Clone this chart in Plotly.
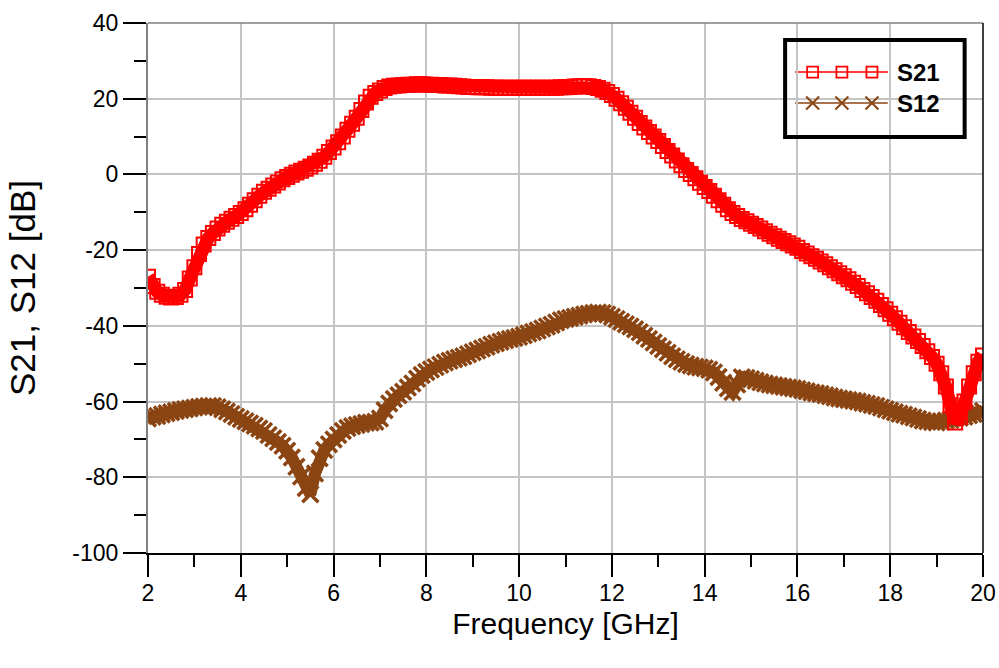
import plotly.graph_objects as go

# Frequency sweep points [GHz]
freq = [round(2.0 + 0.1 * i, 1) for i in range(181)]

# |S21| in dB
s21 = [
    -27.0, -29.5, -31.0, -31.8, -32.3, -32.5, -32.4, -31.8, -30.5, -27.5,   # 2.0 - 2.9
    -24.5, -21.0, -18.5, -16.8, -15.5, -14.3, -13.3, -12.5, -11.7, -11.0,   # 3.0 - 3.9
    -10.2, -9.2, -8.0, -6.8, -5.6, -4.6, -3.8, -2.9, -2.1, -1.3,            # 4.0 - 4.9
    -0.7, -0.1, 0.5, 1.0, 1.5, 2.1, 2.8, 3.6, 4.7, 5.9,                     # 5.0 - 5.9
    7.1, 8.5, 10.0, 11.8, 13.4, 15.0, 17.0, 19.0, 20.5, 21.5,               # 6.0 - 6.9
    22.2, 22.8, 23.2, 23.4, 23.5, 23.6, 23.7, 23.7, 23.8, 23.8,             # 7.0 - 7.9
    23.7, 23.7, 23.6, 23.6, 23.5, 23.5, 23.4, 23.3, 23.2, 23.1,             # 8.0 - 8.9
    23.1, 23.0, 23.0, 23.0, 22.9, 22.9, 22.9, 22.9, 22.9, 22.9,             # 9.0 - 9.9
    22.9, 22.9, 22.9, 22.9, 22.9, 22.9, 22.9, 22.9, 22.9, 23.0,             # 10.0 - 10.9
    23.0, 23.1, 23.2, 23.3, 23.3, 23.3, 23.1, 22.8, 22.4, 21.8,             # 11.0 - 11.9
    21.0, 20.0, 18.8, 17.6, 16.3, 15.0, 13.6, 12.4, 11.2, 10.0,             # 12.0 - 12.9
    8.8, 7.5, 6.2, 5.0, 3.7, 2.4, 1.2, 0.1, -1.0, -2.2,                     # 13.0 - 13.9
    -3.3, -4.4, -5.6, -6.8, -8.0, -9.2, -10.2, -11.0, -11.8, -12.4,         # 14.0 - 14.9
    -13.0, -13.6, -14.3, -15.0, -15.7, -16.3, -17.0, -17.6, -18.2, -18.8,   # 15.0 - 15.9
    -19.4, -20.2, -20.9, -21.6, -22.3, -23.0, -23.7, -24.5, -25.3, -26.1,   # 16.0 - 16.9
    -26.9, -27.7, -28.6, -29.5, -30.5, -31.4, -32.4, -33.4, -34.5, -35.6,   # 17.0 - 17.9
    -36.8, -38.0, -39.2, -40.4, -41.6, -42.8, -44.0, -45.3, -46.7, -48.2,   # 18.0 - 18.9
    -50.0, -52.5, -56.0, -61.0, -65.5, -64.0, -60.0, -56.0, -52.5, -49.5,   # 19.0 - 19.9
    -47.8,                                                                  # 20.0
]

# |S12| in dB
s12 = [
    -64.5, -64.0, -63.8, -63.4, -63.1, -62.8, -62.5, -62.2, -62.0, -61.8,   # 2.0 - 2.9
    -61.6, -61.4, -61.3, -61.2, -61.2, -61.5, -62.0, -62.6, -63.3, -64.0,   # 3.0 - 3.9
    -64.6, -65.2, -65.8, -66.4, -67.1, -67.8, -68.8, -69.7, -70.7, -71.7,   # 4.0 - 4.9
    -73.0, -74.8, -77.2, -79.8, -82.8, -84.5, -79.0, -75.0, -72.8, -71.3,   # 5.0 - 5.9
    -70.0, -68.8, -67.8, -67.0, -66.5, -66.2, -65.9, -65.6, -65.5, -65.3,   # 6.0 - 6.9
    -64.5, -62.3, -60.5, -59.3, -58.3, -57.4, -56.3, -55.2, -54.0, -53.0,   # 7.0 - 7.9
    -52.2, -51.5, -50.9, -50.3, -49.7, -49.2, -48.8, -48.4, -48.0, -47.5,   # 8.0 - 8.9
    -47.0, -46.5, -46.0, -45.5, -45.0, -44.6, -44.2, -43.8, -43.5, -43.2,   # 9.0 - 9.9
    -42.9, -42.5, -42.0, -41.6, -41.2, -40.7, -40.2, -39.7, -39.1, -38.5,   # 10.0 - 10.9
    -38.2, -37.9, -37.6, -37.3, -37.0, -36.8, -36.6, -36.5, -36.6, -37.0,   # 11.0 - 11.9
    -37.6, -38.2, -38.9, -39.6, -40.2, -40.9, -41.7, -42.6, -43.5, -44.4,   # 12.0 - 12.9
    -45.3, -46.2, -47.1, -48.0, -48.8, -49.5, -50.1, -50.5, -50.8, -51.0,   # 13.0 - 13.9
    -51.2, -51.6, -52.3, -53.5, -55.0, -56.5, -57.5, -55.5, -53.6, -53.8,   # 14.0 - 14.9
    -54.1, -54.5, -54.9, -55.2, -55.5, -55.7, -55.9, -56.1, -56.3, -56.5,   # 15.0 - 15.9
    -56.7, -57.0, -57.3, -57.6, -57.8, -58.0, -58.3, -58.6, -58.9, -59.2,   # 16.0 - 16.9
    -59.4, -59.6, -59.8, -60.0, -60.3, -60.6, -60.9, -61.2, -61.6, -62.0,   # 17.0 - 17.9
    -62.4, -62.8, -63.2, -63.5, -63.9, -64.2, -64.6, -65.0, -65.2, -65.4,   # 18.0 - 18.9
    -65.5, -65.3, -65.0, -64.8, -64.5, -64.3, -64.0, -63.6, -63.3, -63.0,   # 19.0 - 19.9
    -62.5,                                                                  # 20.0
]

x_ticks = [2, 4, 6, 8, 10, 12, 14, 16, 18, 20]
y_ticks = [-100, -80, -60, -40, -20, 0, 20, 40]
y_tick_labels = ["-100", "-80", "-60", "-40", "-20", "0", "20", "40"]

RED = "#FF0000"
BROWN = "#8B4513"
FONT = "Liberation Sans, Arial, sans-serif"

fig = go.Figure()

# S12 first so the S21 trace sits on top where they cross.
# The dense marker string is backed by a wide line so it reads as a solid band.
fig.add_trace(go.Scatter(
    x=freq, y=s12, name="S12", mode="lines+markers",
    line=dict(color=BROWN, width=12),
    marker=dict(symbol="x-thin-open", size=16, color=BROWN,
                line=dict(color=BROWN, width=3.5)),
    showlegend=False,
))
fig.add_trace(go.Scatter(
    x=freq, y=s21, name="S21", mode="lines+markers",
    line=dict(color=RED, width=13),
    marker=dict(symbol="square-open", size=14, color=RED,
                line=dict(color=RED, width=2)),
    showlegend=False,
))

# Boxed legend in the upper-right corner (paper fractions of the plot area)
box = dict(x0=0.763, x1=0.978, y0=0.785, y1=0.968)
rows = [("S21", RED, "square-open", 11, 0.9075),
        ("S12", BROWN, "x-thin-open", 13, 0.849)]
sample_x0, sample_x1 = 0.775, 0.886
sample_marks = [0.796, 0.831, 0.867]

shapes = [
    # legend background (under traces, over grid) and its heavy border
    dict(type="rect", xref="paper", yref="paper", **box,
         line=dict(width=0), fillcolor="white", layer="between"),
    dict(type="rect", xref="paper", yref="paper", **box,
         line=dict(color="black", width=4), fillcolor="rgba(0,0,0,0)",
         layer="above"),
    # frame: top (grey) and right (black) edges
    dict(type="line", xref="paper", yref="paper", x0=0, x1=1, y0=1, y1=1,
         line=dict(color="#808080", width=1.5), layer="above"),
    dict(type="line", xref="paper", yref="paper", x0=1, x1=1, y0=0, y1=1,
         line=dict(color="black", width=1.5), layer="above"),
]
annotations = []
for label, color, sym, size, yy in rows:
    shapes.append(dict(type="line", xref="paper", yref="paper",
                       x0=sample_x0, x1=sample_x1, y0=yy, y1=yy,
                       line=dict(color=color, width=1.5), layer="between"))
    fig.add_trace(go.Scatter(
        x=sample_marks, y=[yy] * len(sample_marks), mode="markers",
        xaxis="x2", yaxis="y2", showlegend=False, hoverinfo="skip",
        marker=dict(symbol=sym, size=size, color=color,
                    line=dict(color=color, width=2 if "x" in sym else 1.8)),
    ))
    annotations.append(dict(
        text=f"<b>{label}</b>", xref="paper", yref="paper",
        x=0.895, y=yy, xanchor="left", yanchor="middle", showarrow=False,
        font=dict(family=FONT, size=24, color="black"),
    ))

fig.update_layout(
    width=999, height=668,
    margin=dict(l=148, r=16, t=23, b=115, autoexpand=False),
    paper_bgcolor="white", plot_bgcolor="white",
    font=dict(family=FONT, size=23, color="black"),
    shapes=shapes, annotations=annotations,
    xaxis=dict(
        range=[2, 20], tickvals=x_ticks, ticks="outside", ticklen=22,
        tickwidth=1.5, tickcolor="black", ticklabelstandoff=-3,
        showline=True, linecolor="black", linewidth=1.5,
        showgrid=True, gridcolor="#c4c4c4", gridwidth=1.5, zeroline=False,
        minor=dict(dtick=1, ticks="outside", ticklen=12, tickwidth=1.5,
                   tickcolor="black", showgrid=False),
        title=dict(text="Frequency [GHz]", font=dict(size=30), standoff=8),
        tickfont=dict(size=23), automargin=False,
    ),
    yaxis=dict(
        range=[-100, 40], tickvals=y_ticks, ticktext=y_tick_labels,
        ticks="outside", ticklen=23,
        tickwidth=1.5, tickcolor="black",
        showline=True, linecolor="#808080", linewidth=2,
        showgrid=True, gridcolor="#c4c4c4", gridwidth=1.5, zeroline=False,
        minor=dict(dtick=10, ticks="outside", ticklen=12, tickwidth=1.5,
                   tickcolor="black", showgrid=False),
        title=dict(text="S21, S12 [dB]", font=dict(size=35), standoff=26),
        tickfont=dict(size=23), automargin=False,
    ),
    xaxis2=dict(overlaying="x", range=[0, 1], visible=False, fixedrange=True),
    yaxis2=dict(overlaying="y", range=[0, 1], visible=False, fixedrange=True),
)

fig.write_html("out.html")
